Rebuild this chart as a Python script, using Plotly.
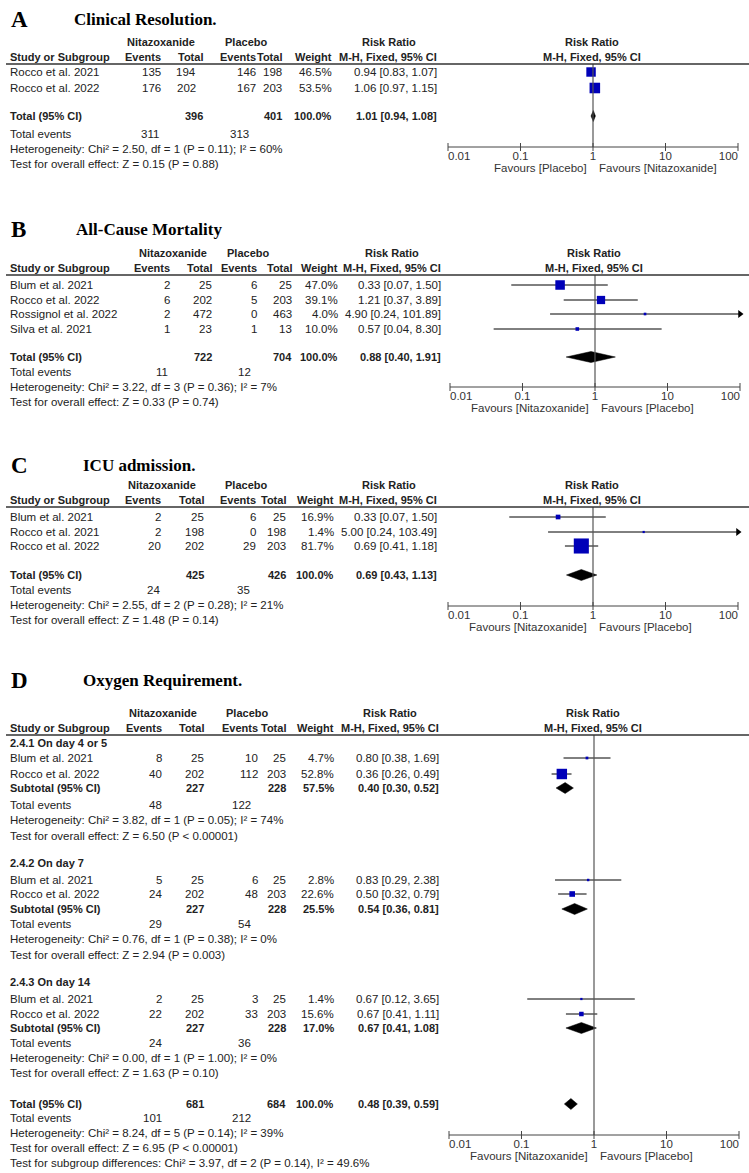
import plotly.graph_objects as go

W, H = 749, 1173
SANS = "Liberation Sans, Arial, sans-serif"
SERIF = "Liberation Serif, Times New Roman, serif"
TXT = "#222222"
BLUE = "#0000B8"
FS = 11.5
BFS = 11

# ------------------------------------------------------------------ DATA
# Panel A - Clinical Resolution
A_studies = ["Rocco et al. 2021", "Rocco et al. 2022"]
A_nit_events = [135, 176]
A_nit_total = [194, 202]
A_pla_events = [146, 167]
A_pla_total = [198, 203]
A_weight = [46.5, 53.5]
A_rr = [0.94, 1.06]
A_lo = [0.83, 0.97]
A_hi = [1.07, 1.15]
A_tot_n = [396, 401]
A_tot_w = 100.0
A_tot_rr = [1.01, 0.94, 1.08]
A_tot_events = [311, 313]
A_het = "Heterogeneity: Chi² = 2.50, df = 1 (P = 0.11); I² = 60%"
A_test = "Test for overall effect: Z = 0.15 (P = 0.88)"
A_favours = ["Favours [Placebo]", "Favours [Nitazoxanide]"]

# Panel B - All-Cause Mortality
B_studies = ["Blum et al. 2021", "Rocco et al. 2022", "Rossignol et al. 2022", "Silva et al. 2021"]
B_nit_events = [2, 6, 2, 1]
B_nit_total = [25, 202, 472, 23]
B_pla_events = [6, 5, 0, 1]
B_pla_total = [25, 203, 463, 13]
B_weight = [47.0, 39.1, 4.0, 10.0]
B_rr = [0.33, 1.21, 4.90, 0.57]
B_lo = [0.07, 0.37, 0.24, 0.04]
B_hi = [1.50, 3.89, 101.89, 8.30]
B_tot_n = [722, 704]
B_tot_w = 100.0
B_tot_rr = [0.88, 0.40, 1.91]
B_tot_events = [11, 12]
B_het = "Heterogeneity: Chi² = 3.22, df = 3 (P = 0.36); I² = 7%"
B_test = "Test for overall effect: Z = 0.33 (P = 0.74)"
B_favours = ["Favours [Nitazoxanide]", "Favours [Placebo]"]

# Panel C - ICU admission
C_studies = ["Blum et al. 2021", "Rocco et al. 2021", "Rocco et al. 2022"]
C_nit_events = [2, 2, 20]
C_nit_total = [25, 198, 202]
C_pla_events = [6, 0, 29]
C_pla_total = [25, 198, 203]
C_weight = [16.9, 1.4, 81.7]
C_rr = [0.33, 5.00, 0.69]
C_lo = [0.07, 0.24, 0.41]
C_hi = [1.50, 103.49, 1.18]
C_tot_n = [425, 426]
C_tot_w = 100.0
C_tot_rr = [0.69, 0.43, 1.13]
C_tot_events = [24, 35]
C_het = "Heterogeneity: Chi² = 2.55, df = 2 (P = 0.28); I² = 21%"
C_test = "Test for overall effect: Z = 1.48 (P = 0.14)"
C_favours = ["Favours [Nitazoxanide]", "Favours [Placebo]"]

# Panel D - Oxygen Requirement (subgroups)
D_groups = ["2.4.1 On day 4 or 5", "2.4.2 On day 7", "2.4.3 On day 14"]
D_studies = [["Blum et al. 2021", "Rocco et al. 2022"]] * 3
D_nit_events = [[8, 40], [5, 24], [2, 22]]
D_nit_total = [[25, 202], [25, 202], [25, 202]]
D_pla_events = [[10, 112], [6, 48], [3, 33]]
D_pla_total = [[25, 203], [25, 203], [25, 203]]
D_weight = [[4.7, 52.8], [2.8, 22.6], [1.4, 15.6]]
D_rr = [[0.80, 0.36], [0.83, 0.50], [0.67, 0.67]]
D_lo = [[0.38, 0.26], [0.29, 0.32], [0.12, 0.41]]
D_hi = [[1.69, 0.49], [2.38, 0.79], [3.65, 1.11]]
D_sub_n = [[227, 228], [227, 228], [227, 228]]
D_sub_w = [57.5, 25.5, 17.0]
D_sub_rr = [[0.40, 0.30, 0.52], [0.54, 0.36, 0.81], [0.67, 0.41, 1.08]]
D_sub_events = [[48, 122], [29, 54], [24, 36]]
D_sub_het = ["Heterogeneity: Chi² = 3.82, df = 1 (P = 0.05); I² = 74%",
             "Heterogeneity: Chi² = 0.76, df = 1 (P = 0.38); I² = 0%",
             "Heterogeneity: Chi² = 0.00, df = 1 (P = 1.00); I² = 0%"]
D_sub_test = ["Test for overall effect: Z = 6.50 (P < 0.00001)",
              "Test for overall effect: Z = 2.94 (P = 0.003)",
              "Test for overall effect: Z = 1.63 (P = 0.10)"]
D_tot_n = [681, 684]
D_tot_w = 100.0
D_tot_rr = [0.48, 0.39, 0.59]
D_tot_events = [101, 212]
D_het = "Heterogeneity: Chi² = 8.24, df = 5 (P = 0.14); I² = 39%"
D_test = "Test for overall effect: Z = 6.95 (P < 0.00001)"
D_subdiff = "Test for subgroup differences: Chi² = 3.97, df = 2 (P = 0.14), I² = 49.6%"
D_favours = ["Favours [Nitazoxanide]", "Favours [Placebo]"]

letters = ["A", "B", "C", "D"]
titles = ["Clinical Resolution.", "All-Cause Mortality", "ICU admission.", "Oxygen Requirement."]
tick_vals = [0.01, 0.1, 1, 10, 100]
tick_text = ["0.01", "0.1", "1", "10", "100"]

# ------------------------------------------------------------------ LAYOUT (pixel positions)
DEC = 72.5
SPAN = 2.06
cols = {
    "A": dict(study=9, ev1=162, tot1=197, tot1t=204, ev2=257, tot2=283, wt=333, rr=438,
              tev1=160, tev2=250, nit_c=161, pla_c=246, rrh_c=389, one=593),
    "B": dict(study=9, ev1=171, tot1=213, tot1t=213, ev2=258, tot2=293, wt=339, rr=442,
              tev1=169, tev2=252, nit_c=173, pla_c=248, rrh_c=392, one=595),
    "C": dict(study=9, ev1=162, tot1=205, tot1t=205, ev2=257, tot2=287, wt=335, rr=438,
              tev1=161, tev2=251, nit_c=162, pla_c=246, rrh_c=389, one=593),
    "D": dict(study=9, ev1=163, tot1=205, tot1t=205, ev2=259, tot2=287, wt=335, rr=440,
              tev1=163, tev2=252, nit_c=163, pla_c=247, rrh_c=390, one=594),
}
rows = {
    "A": dict(letter=19, title_x=73, h1=42, h2=57, rule=64, rows=[72, 88], total=116,
              tev=134, het=149, test=164, axis=147),
    "B": dict(letter=229, title_x=75, h1=253, h2=268, rule=275, rows=[285, 300, 314, 329],
              total=357, tev=372, het=387, test=402, axis=387),
    "C": dict(letter=465, title_x=82, h1=485, h2=500, rule=507, rows=[517, 532, 546],
              total=575, tev=590, het=605, test=620, axis=606),
    "D": dict(letter=680, title_x=82, h1=713, h2=728, rule=735,
              glabel=[743, 863, 982], grows=[[758, 774], [880, 894], [999, 1014]],
              gsub=[788, 909, 1028], gtev=[805, 924, 1043], ghet=[820, 939, 1058],
              gtest=[836, 955, 1073], total=1104, tev=1118, het=1133, test=1148,
              subdiff=1163, axis=1135),
}

annotations = []
shapes = []
traces = []


def txt(x, y, s, anchor="left", bold=False, size=None, family=SANS, color=TXT):
    if size is None:
        size = BFS if bold else FS
    annotations.append(dict(
        x=x, y=y, xref="x", yref="y", text=f"<b>{s}</b>" if bold else str(s),
        showarrow=False, xanchor=anchor, yanchor="middle", borderpad=0,
        font=dict(family=family, size=size, color=color)))


def fmt_rr(r, lo, hi):
    return f"{r:.2f} [{lo:.2f}, {hi:.2f}]"


def header(key, c, r):
    txt(10, r["letter"], letters["ABCD".index(key)], bold=True, size=23, family=SERIF, color="#000")
    txt(r["title_x"], r["letter"], titles["ABCD".index(key)], bold=True, size=17, family=SERIF, color="#000")
    txt(c["nit_c"], r["h1"], "Nitazoxanide", anchor="center", bold=True)
    txt(c["pla_c"], r["h1"], "Placebo", anchor="center", bold=True)
    txt(c["rrh_c"], r["h1"], "Risk Ratio", anchor="center", bold=True)
    txt(c["one"] - 1, r["h1"], "Risk Ratio", anchor="center", bold=True)
    txt(c["study"], r["h2"], "Study or Subgroup", bold=True)
    txt(c["ev1"], r["h2"], "Events", anchor="right", bold=True)
    txt(c["tot1t"], r["h2"], "Total", anchor="right", bold=True)
    txt(c["ev2"], r["h2"], "Events", anchor="right", bold=True)
    txt(c["tot2"], r["h2"], "Total", anchor="right", bold=True)
    txt(c["wt"], r["h2"], "Weight", anchor="right", bold=True)
    txt(c["rr"], r["h2"], "M-H, Fixed, 95% CI", anchor="right", bold=True)
    txt(c["one"] - 1, r["h2"], "M-H, Fixed, 95% CI", anchor="center", bold=True)
    shapes.append(dict(type="line", xref="x", yref="y", x0=6, x1=W, y0=r["rule"], y1=r["rule"],
                       line=dict(color="#333333", width=1.3)))


def study_rows(c, ys, names, ne, nt, pe, pt, w, rr, lo, hi):
    for i, y in enumerate(ys):
        txt(c["study"], y, names[i])
        txt(c["ev1"], y, ne[i], anchor="right")
        txt(c["tot1"], y, nt[i], anchor="right")
        txt(c["ev2"], y, pe[i], anchor="right")
        txt(c["tot2"], y, pt[i], anchor="right")
        txt(c["wt"], y, f"{w[i]:.1f}%", anchor="right")
        txt(c["rr"], y, fmt_rr(rr[i], lo[i], hi[i]), anchor="right")


def total_row(c, y, label, n, wt, trr):
    txt(c["study"], y, label, bold=True)
    txt(c["tot1t"], y, n[0], anchor="right", bold=True)
    txt(c["tot2"], y, n[1], anchor="right", bold=True)
    txt(c["wt"], y, f"{wt:.1f}%", anchor="right", bold=True)
    txt(c["rr"], y, fmt_rr(*trr), anchor="right", bold=True)


def summary_rows(c, ytev, yhet, ytest, ev, het, test):
    txt(c["study"], ytev, "Total events")
    txt(c["tev1"], ytev, ev[0], anchor="right")
    txt(c["tev2"], ytev, ev[1], anchor="right")
    txt(c["study"], yhet, het)
    txt(c["study"], ytest, test)


def forest(ax, ys, rr, lo, hi, w, xmax=100):
    lx, ly = [], []
    arr_x, arr_y = [], []
    for y, r, l, h in zip(ys, rr, lo, hi):
        lx += [l, min(h, xmax), None]
        ly += [y, y, None]
        if h > xmax:
            arr_x.append(xmax)
            arr_y.append(y)
    traces.append(go.Scatter(x=lx, y=ly, xaxis=ax, yaxis="y", mode="lines",
                             line=dict(color="#000000", width=1), hoverinfo="skip"))
    traces.append(go.Scatter(x=rr, y=ys, xaxis=ax, yaxis="y", mode="markers", cliponaxis=False,
                             marker=dict(symbol="square", color=BLUE, opacity=1,
                                         size=[2 + 0.16 * v for v in w], line=dict(width=0)),
                             hoverinfo="skip"))
    if arr_x:
        traces.append(go.Scatter(x=arr_x, y=arr_y, xaxis=ax, yaxis="y", mode="markers",
                                 cliponaxis=False,
                                 marker=dict(symbol="triangle-right", color="#000000", size=7),
                                 hoverinfo="skip"))


def diamond(ax, y, trr, half=5.5):
    r, l, h = trr
    traces.append(go.Scatter(x=[l, r, h, r, l], y=[y, y - half, y, y + half, y], xaxis=ax,
                             yaxis="y", mode="lines", fill="toself", fillcolor="#000000",
                             line=dict(color="#000000", width=0.5), hoverinfo="skip"))


def axis(ax, c, r, favours):
    ay = r["axis"]
    traces.append(go.Scatter(x=[1, 1], y=[r["rule"], ay], xaxis=ax, yaxis="y", mode="lines",
                             line=dict(color="#555555", width=1.2), hoverinfo="skip"))
    traces.append(go.Scatter(x=[tick_vals[0], tick_vals[-1]], y=[ay, ay], xaxis=ax, yaxis="y",
                             mode="lines", line=dict(color="#444444", width=1), hoverinfo="skip"))
    tx, ty = [], []
    for t in tick_vals:
        tx += [t, t, None]
        ty += [ay - 4, ay + 4, None]
    traces.append(go.Scatter(x=tx, y=ty, xaxis=ax, yaxis="y", mode="lines",
                             line=dict(color="#444444", width=1), hoverinfo="skip"))
    pos = ["middle right"] + ["middle center"] * (len(tick_vals) - 2) + ["middle left"]
    traces.append(go.Scatter(x=tick_vals, y=[ay + 10] * len(tick_vals), xaxis=ax, yaxis="y",
                             mode="text", text=tick_text, textposition=pos, cliponaxis=False,
                             textfont=dict(family=SANS, size=FS, color="#333333"),
                             hoverinfo="skip"))
    txt(c["one"] - 5, ay + 21, favours[0], anchor="right", color="#333333")
    txt(c["one"] + 5, ay + 21, favours[1], anchor="left", color="#333333")


# ------------------------------------------------------------------ PANELS A-C
simple = {
    "A": (A_studies, A_nit_events, A_nit_total, A_pla_events, A_pla_total, A_weight, A_rr, A_lo,
          A_hi, A_tot_n, A_tot_w, A_tot_rr, A_tot_events, A_het, A_test, A_favours),
    "B": (B_studies, B_nit_events, B_nit_total, B_pla_events, B_pla_total, B_weight, B_rr, B_lo,
          B_hi, B_tot_n, B_tot_w, B_tot_rr, B_tot_events, B_het, B_test, B_favours),
    "C": (C_studies, C_nit_events, C_nit_total, C_pla_events, C_pla_total, C_weight, C_rr, C_lo,
          C_hi, C_tot_n, C_tot_w, C_tot_rr, C_tot_events, C_het, C_test, C_favours),
}
axes_names = {"A": "x2", "B": "x3", "C": "x4", "D": "x5"}

for key, d in simple.items():
    (names, ne, nt, pe, pt, w, rr, lo, hi, tn, tw, trr, tev, het, test, fav) = d
    c, r, ax = cols[key], rows[key], axes_names[key]
    header(key, c, r)
    study_rows(c, r["rows"], names, ne, nt, pe, pt, w, rr, lo, hi)
    total_row(c, r["total"], "Total (95% CI)", tn, tw, trr)
    summary_rows(c, r["tev"], r["het"], r["test"], tev, het, test)
    forest(ax, r["rows"], rr, lo, hi, w)
    diamond(ax, r["total"], trr)
    axis(ax, c, r, fav)

# ------------------------------------------------------------------ PANEL D
c, r, ax = cols["D"], rows["D"], axes_names["D"]
header("D", c, r)
for g in range(len(D_groups)):
    txt(c["study"], r["glabel"][g], D_groups[g], bold=True)
    study_rows(c, r["grows"][g], D_studies[g], D_nit_events[g], D_nit_total[g], D_pla_events[g],
               D_pla_total[g], D_weight[g], D_rr[g], D_lo[g], D_hi[g])
    total_row(c, r["gsub"][g], "Subtotal (95% CI)", D_sub_n[g], D_sub_w[g], D_sub_rr[g])
    summary_rows(c, r["gtev"][g], r["ghet"][g], r["gtest"][g], D_sub_events[g], D_sub_het[g],
                 D_sub_test[g])
    forest(ax, r["grows"][g], D_rr[g], D_lo[g], D_hi[g], D_weight[g])
    diamond(ax, r["gsub"][g], D_sub_rr[g])
total_row(c, r["total"], "Total (95% CI)", D_tot_n, D_tot_w, D_tot_rr)
summary_rows(c, r["tev"], r["het"], r["test"], D_tot_events, D_het, D_test)
txt(c["study"], r["subdiff"], D_subdiff)
diamond(ax, r["total"], D_tot_rr)
axis(ax, c, r, D_favours)

# ------------------------------------------------------------------ FIGURE
fig = go.Figure(data=traces)
layout = dict(
    width=W, height=H, margin=dict(l=0, r=0, t=0, b=0, pad=0),
    paper_bgcolor="white", plot_bgcolor="rgba(0,0,0,0)", showlegend=False,
    xaxis=dict(range=[0, W], domain=[0, 1], visible=False, fixedrange=True),
    yaxis=dict(range=[H, 0], domain=[0, 1], visible=False, fixedrange=True),
    annotations=annotations, shapes=shapes,
)
for key, axname in axes_names.items():
    one = cols[key]["one"]
    layout["xaxis" + axname[1:]] = dict(
        type="log", range=[-SPAN, SPAN],
        domain=[(one - SPAN * DEC) / W, (one + SPAN * DEC) / W],
        anchor="y", visible=False, fixedrange=True)
fig.update_layout(**layout)
fig.write_html("out.html", config={"displayModeBar": False},
               post_script="document.body.style.margin='0px';document.body.style.overflow='hidden';")
